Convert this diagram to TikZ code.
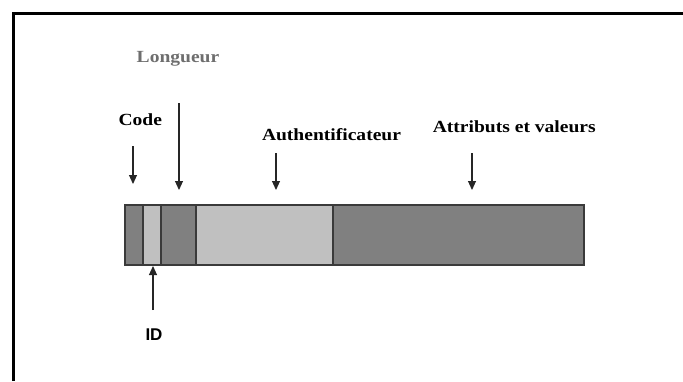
\documentclass[tikz,border=0pt]{standalone}
\usepackage{fontspec}
\setmainfont{Liberation Serif}
\newfontfamily\lblfont[FakeStretch=1.15]{Liberation Serif}
\newfontfamily\arialfont{Liberation Sans}
\usetikzlibrary{arrows.meta}
\definecolor{darkseg}{HTML}{808080}
\definecolor{lightseg}{HTML}{C0C0C0}
\definecolor{edgegray}{HTML}{3A3A3A}
\definecolor{longgray}{HTML}{6E6E6E}
\tikzset{
  seg/.style={draw=edgegray, line width=1.4pt, inner sep=0pt, outer sep=0pt, anchor=north west},
  darkbox/.style={seg, fill=darkseg},
  lightbox/.style={seg, fill=lightseg},
  lbl/.style={font=\lblfont\bfseries\fontsize{17}{20}\selectfont, inner sep=0pt, anchor=base},
  idlbl/.style={font=\arialfont\bfseries\fontsize{17}{20}\selectfont, inner sep=0pt, anchor=base},
  pointer/.style={draw=black!85, line width=1.1pt, -{Triangle[width=8pt,length=9pt]}}
}
\begin{document}
\begin{tikzpicture}[x=1pt,y=-1pt]
\useasboundingbox (0,0) rectangle (683,381);
% frame
\draw[line width=3pt] (13,381) -- (13,13) -- (683,13);
% bar segments
\node[darkbox, minimum width=18pt, minimum height=60pt] (code) at (125,205) {};
\node[lightbox, minimum width=18pt, minimum height=60pt] (id) at (143,205) {};
\node[darkbox, minimum width=35pt, minimum height=60pt] (len) at (161,205) {};
\node[lightbox, minimum width=137pt, minimum height=60pt] (auth) at (196,205) {};
\node[darkbox, minimum width=251pt, minimum height=60pt] (attr) at (333,205) {};
% labels
\node[lbl, text=longgray] (tlong) at (178,62.7) {Longueur};
\node[lbl] (tcode) at (140.3,125.7) {Code};
\node[lbl] (tauth) at (331.5,140) {Authentificateur};
\node[lbl] (tattr) at (514.3,132.7) {Attributs et valeurs};
\node[idlbl] (tid) at (154,340) {ID};
% arrow coordinates
\coordinate (c1) at (133,146);
\coordinate (c2) at (133,184);
\coordinate (l1) at (179,103);
\coordinate (l2) at (179,190);
\coordinate (a1) at (276,153);
\coordinate (a2) at (276,190);
\coordinate (v1) at (472,153);
\coordinate (v2) at (472,190);
\coordinate (i1) at (153,310);
\coordinate (i2) at (153,266);
\draw[pointer] (c1) -- (c2);
\draw[pointer] (l1) -- (l2);
\draw[pointer] (a1) -- (a2);
\draw[pointer] (v1) -- (v2);
\draw[pointer] (i1) -- (i2);
\end{tikzpicture}
\end{document}
